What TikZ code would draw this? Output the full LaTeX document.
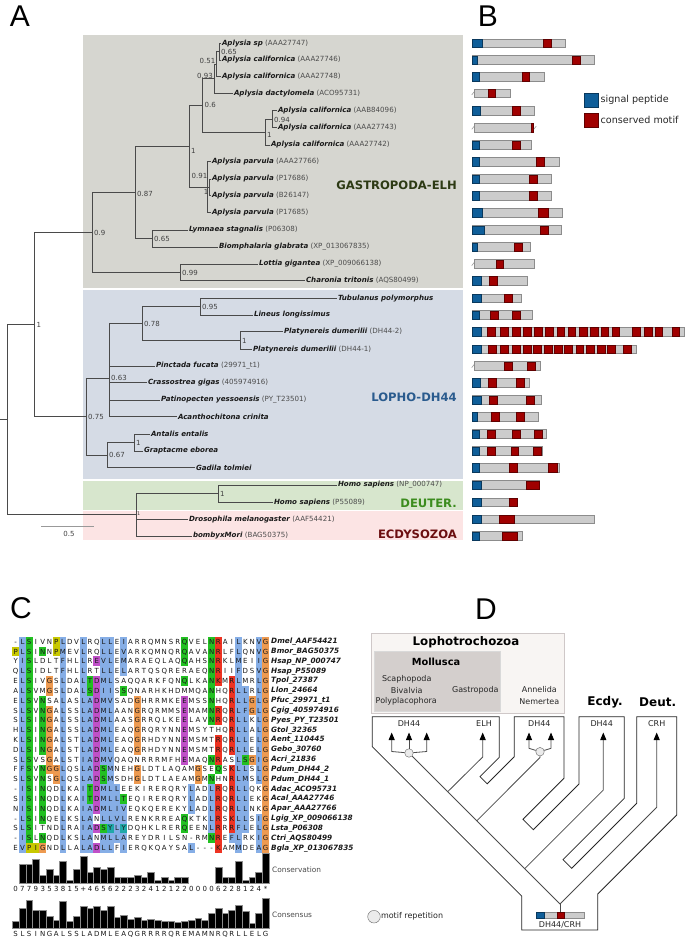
\documentclass[tikz,border=0pt]{standalone}
\usepackage{fontspec}
\setmainfont{DejaVu Sans}
\newfontfamily\panelfont{Liberation Sans}
\usetikzlibrary{arrows.meta}
\definecolor{treeg}{HTML}{4A4A4A}
\definecolor{gasbox}{HTML}{D6D6D0}
\definecolor{lopbox}{HTML}{D5DBE5}
\definecolor{deubox}{HTML}{D7E6CD}
\definecolor{ecdbox}{HTML}{FCE4E4}
\definecolor{gastc}{HTML}{2D3A14}
\definecolor{lopc}{HTML}{2A5B8E}
\definecolor{deuc}{HTML}{3C8C1E}
\definecolor{ecdc}{HTML}{6B0E10}
\definecolor{spblue}{HTML}{0F5E99}
\definecolor{cmred}{HTML}{A00000}
\definecolor{barg}{HTML}{CCCCCC}
\definecolor{barb}{HTML}{8C8C8C}
\definecolor{alb}{HTML}{86AEE6}
\definecolor{alg}{HTML}{22C022}
\definecolor{alo}{HTML}{EE9A50}
\definecolor{alm}{HTML}{C050C8}
\definecolor{alr}{HTML}{EE3322}
\definecolor{aly}{HTML}{C8C800}
\definecolor{alc}{HTML}{20A8A8}
\definecolor{lophf}{HTML}{F8F5F3}
\definecolor{lophd}{HTML}{CFC8C8}
\definecolor{mollf}{HTML}{D4CFCD}

\newcommand\spn[1]{\textbf{\textit{#1}}}
\newcommand\acc[1]{\textcolor{black!70}{(#1)}}

\newcommand\protbar[5]{%
  \draw[pbar] (#2,#1-4.3) rectangle (#3,#1+4.3);
  \ifdim #4pt>0pt \draw[pblue] (#2,#1-4.3) rectangle (#4,#1+4.3);\fi
  \foreach \ra/\rb in {#5} {\draw[pred] (\ra,#1-4.3) rectangle (\rb,#1+4.3);}
}
\newcommand\trunc[2]{\draw[barb, line width=0.5pt] (#1-1.3,#2+1.6) -- (#1+1.3,#2-1.6);}

\newcounter{alcol}
\newcounter{alrowc}
\newcommand\alrow[4]{%
  \stepcounter{alrowc}\setcounter{alcol}{0}%
  \def\aly{#1}%
  \alstep#2\relax#3\relax
  \node[alname] (nm\arabic{alrowc}) at (271,#1) {\spn{#4}};}
\def\alstep#1#2\relax#3#4\relax{%
  \stepcounter{alcol}%
  \alcell{#1}{#3}%
  \ifx\relax#2\relax\else\alstep#2\relax#4\relax\fi}
\newcommand\alcell[2]{%
  \pgfmathsetmacro\alxx{15.7+(\value{alcol}-1)*6.757}%
  \if#2.\else\fill[al#2] (\alxx-3.38,\aly-4.91) rectangle (\alxx+3.38,\aly+4.91);\fi
  \node[alchar] (c\arabic{alrowc}x\arabic{alcol}) at (\alxx,\aly) {#1};}

\begin{document}
\begin{tikzpicture}[x=1pt,y=-1pt,
  br/.style={draw=treeg, line width=0.75pt},
  leaf/.style={anchor=west, font=\fontsize{7.1}{8}\selectfont, inner sep=0.8pt, text=black!90},
  sup/.style={anchor=west, font=\fontsize{7}{8}\selectfont, inner sep=0.5pt, text=black!75},
  supl/.style={sup, anchor=east},
  grp/.style={anchor=east, font=\bfseries\fontsize{11.6}{13}\selectfont, inner sep=0pt},
  panel/.style={font=\panelfont\fontsize{30}{30}\selectfont, inner sep=0pt},
  pbar/.style={fill=barg, draw=barb, line width=0.7pt},
  pblue/.style={fill=spblue, draw=spblue!60!black, line width=0.4pt},
  pred/.style={fill=cmred, draw=cmred!60!black, line width=0.4pt},
  leg/.style={anchor=west, font=\fontsize{9.6}{11}\selectfont, inner sep=0pt, text=black!85},
  alchar/.style={font=\fontsize{7}{8}\selectfont, inner sep=0pt, text height=5.1pt, text depth=0pt, text=black!90},
  alname/.style={anchor=west, font=\fontsize{7.3}{8}\selectfont, inner sep=0pt, text=black!90},
  trk/.style={anchor=west, font=\fontsize{7.4}{8}\selectfont, inner sep=0pt, text=black!70},
  tube/.style={draw=black!85, line width=0.8pt, line join=miter},
  gl/.style={draw=black!70, line width=0.8pt},
  garr/.style={-{Triangle[length=7.5pt,width=6pt,color=black]}},
  mcirc/.style={circle, draw=black!60, fill=black!8, minimum size=8.5pt, inner sep=0pt},
  dtxt/.style={font=\fontsize{8}{9}\selectfont, inner sep=0pt, text=black!85},
  dbold/.style={font=\bfseries\fontsize{12}{13}\selectfont, inner sep=0pt}]
\useasboundingbox (0,0) rectangle (685,938);
\fill[white] (0,0) rectangle (685,938);

% ---------- panel letters
\node[panel] (pA) at (20,16.5) {A};
\node[panel] (pB) at (488,16.5) {B};
\node[panel] (pC) at (21,608.5) {C};
\node[panel] (pD) at (486,609) {D};

% ---------- panel A boxes
\fill[gasbox] (83,35) rectangle (463,288);
\fill[lopbox] (83,290) rectangle (463,479);
\fill[deubox] (83,480.5) rectangle (463,510);
\fill[ecdbox] (83,511) rectangle (463,540);

% leaves
\coordinate (L1) at (221,43.3);
\coordinate (L2) at (221,60);
\coordinate (L3) at (221,76.7);
\coordinate (L4) at (233,93.3);
\coordinate (L5) at (277,110.7);
\coordinate (L6) at (277,127.7);
\coordinate (L7) at (270,145);
\coordinate (L8) at (211,161.7);
\coordinate (L9) at (211,179);
\coordinate (L10) at (211,195.7);
\coordinate (L11) at (211,212.7);
\coordinate (L12) at (188,230);
\coordinate (L13) at (218,247);
\coordinate (L14) at (258,264);
\coordinate (L15) at (305,280.7);
\coordinate (M1) at (337,298.3);
\coordinate (M2) at (253,315);
\coordinate (M3) at (283,331.7);
\coordinate (M4) at (252,349.3);
\coordinate (M5) at (155,366);
\coordinate (M6) at (147,382.7);
\coordinate (M7) at (160,400);
\coordinate (M8) at (177,416.7);
\coordinate (M9) at (150,434);
\coordinate (M10) at (143,451);
\coordinate (M11) at (195,467.7);
\coordinate (D1) at (337,485);
\coordinate (D2) at (273,502.3);
\coordinate (E1) at (188,519.3);
\coordinate (E2) at (192,536);
% internal nodes
\coordinate (n065a) at (219,51.7);
\coordinate (n051) at (216.5,64.2);
\coordinate (n093) at (214,78.7);
\coordinate (n094) at (272,119.2);
\coordinate (n1a) at (265,132.1);
\coordinate (n06) at (202,105.4);
\coordinate (n1b) at (209,187.3);
\coordinate (n091) at (207,187.2);
\coordinate (n1c) at (189,146.3);
\coordinate (n065b) at (152,238.5);
\coordinate (n087) at (135,192.4);
\coordinate (n099) at (180,272.3);
\coordinate (n09) at (92,232.4);
\coordinate (m095) at (200,306.7);
\coordinate (m1p) at (240,340.5);
\coordinate (m078) at (142,323.6);
\coordinate (m063) at (109,378);
\coordinate (m1ag) at (134,442.5);
\coordinate (m067) at (107,455.1);
\coordinate (m075) at (86,416.5);
\coordinate (r1) at (34,324.5);
\coordinate (d1) at (218,493.7);
\coordinate (e1) at (136,514.8);
\coordinate (root) at (7,419.7);
\coordinate (rstub) at (0,419.7);

% branches
\foreach \p/\c in {n065a/L1,n065a/L2,n051/n065a,n051/L3,n093/n051,n093/L4,
  n094/L5,n094/L6,n1a/n094,n1a/L7,n06/n093,n06/n1a,n1b/L9,n1b/L10,
  n091/L8,n091/n1b,n091/L11,n1c/n06,n1c/n091,n065b/L12,n065b/L13,
  n087/n1c,n087/n065b,n099/L14,n099/L15,n09/n087,n09/n099,
  m095/M1,m095/M2,m1p/M3,m1p/M4,m078/m095,m078/m1p,
  m063/m078,m063/M5,m063/M6,m063/M7,m063/M8,
  m1ag/M9,m1ag/M10,m067/m1ag,m067/M11,m075/m063,m075/m067,
  r1/n09,r1/m075,d1/D1,d1/D2,e1/d1,e1/E1,e1/E2,root/r1,root/e1}
  {\draw[br] (\p) |- (\c);}
\draw[br] (root) -- (rstub);

% leaf labels
\node[leaf] (tL1) at (L1) {\spn{Aplysia sp} \acc{AAA27747}};
\node[leaf] (tL2) at (L2) {\spn{Aplysia californica} \acc{AAA27746}};
\node[leaf] (tL3) at (L3) {\spn{Aplysia californica} \acc{AAA27748}};
\node[leaf] (tL4) at (L4) {\spn{Aplysia dactylomela} \acc{ACO95731}};
\node[leaf] (tL5) at (L5) {\spn{Aplysia californica} \acc{AAB84096}};
\node[leaf] (tL6) at (L6) {\spn{Aplysia californica} \acc{AAA27743}};
\node[leaf] (tL7) at (L7) {\spn{Aplysia californica} \acc{AAA27742}};
\node[leaf] (tL8) at (L8) {\spn{Aplysia parvula} \acc{AAA27766}};
\node[leaf] (tL9) at (L9) {\spn{Aplysia parvula} \acc{P17686}};
\node[leaf] (tL10) at (L10) {\spn{Aplysia parvula} \acc{B26147}};
\node[leaf] (tL11) at (L11) {\spn{Aplysia parvula} \acc{P17685}};
\node[leaf] (tL12) at (L12) {\spn{Lymnaea stagnalis} \acc{P06308}};
\node[leaf] (tL13) at (L13) {\spn{Biomphalaria glabrata} \acc{XP\_013067835}};
\node[leaf] (tL14) at (L14) {\spn{Lottia gigantea} \acc{XP\_009066138}};
\node[leaf] (tL15) at (L15) {\spn{Charonia tritonis} \acc{AQS80499}};
\node[leaf] (tM1) at (M1) {\spn{Tubulanus polymorphus}};
\node[leaf] (tM2) at (M2) {\spn{Lineus longissimus}};
\node[leaf] (tM3) at (M3) {\spn{Platynereis dumerilii} \acc{DH44-2}};
\node[leaf] (tM4) at (M4) {\spn{Platynereis dumerilii} \acc{DH44-1}};
\node[leaf] (tM5) at (M5) {\spn{Pinctada fucata} \acc{29971\_t1}};
\node[leaf] (tM6) at (M6) {\spn{Crassostrea gigas} \acc{405974916}};
\node[leaf] (tM7) at (M7) {\spn{Patinopecten yessoensis} \acc{PY\_T23501}};
\node[leaf] (tM8) at (M8) {\spn{Acanthochitona crinita}};
\node[leaf] (tM9) at (M9) {\spn{Antalis entalis}};
\node[leaf] (tM10) at (M10) {\spn{Graptacme eborea}};
\node[leaf] (tM11) at (M11) {\spn{Gadila tolmiei}};
\node[leaf] (tD1) at (D1) {\spn{Homo sapiens} \acc{NP\_000747}};
\node[leaf] (tD2) at (D2) {\spn{Homo sapiens} \acc{P55089}};
\node[leaf] (tE1) at (E1) {\spn{Drosophila melanogaster} \acc{AAF54421}};
\node[leaf] (tE2) at (E2) {\spn{bombyxMori} \acc{BAG50375}};

% support values
\node[sup] (s1) at (220.5,51.5) {0.65};
\node[supl] (s2) at (216,61) {0.51};
\node[supl] (s3) at (213.5,75.5) {0.93};
\node[sup] (s4) at (204,105) {0.6};
\node[sup] (s5) at (273.5,120) {0.94};
\node[sup] (s6) at (266.5,135) {1};
\node[sup] (s7) at (190.5,150.5) {1};
\node[supl] (s8) at (208,176) {0.91};
\node[supl] (s9) at (209,192) {1};
\node[sup] (s10) at (136.5,194) {0.87};
\node[sup] (s11) at (153.5,239) {0.65};
\node[sup] (s12) at (93.5,233) {0.9};
\node[sup] (s13) at (181.5,272.5) {0.99};
\node[sup] (s14) at (36,325) {1};
\node[sup] (s15) at (201.5,306.5) {0.95};
\node[sup] (s16) at (143.5,323.5) {0.78};
\node[sup] (s17) at (241.5,341) {1};
\node[sup] (s18) at (110.5,378) {0.63};
\node[sup] (s19) at (87.5,416.5) {0.75};
\node[sup] (s20) at (135.5,443) {1};
\node[sup] (s21) at (108.5,455) {0.67};
\node[sup] (s22) at (219.5,493.5) {1};
\node[sup, font=\fontsize{5}{6}\selectfont] (s23) at (136.5,514) {1};

% scale bar
\coordinate (sb1) at (41,526.7);
\coordinate (sb2) at (94,526.7);
\draw[black!40, line width=1.2pt] (sb1) -- (sb2);
\node[sup, anchor=center] (sbl) at (69,533.5) {0.5};

% group labels
\node[grp, text=gastc] (gGas) at (457,185) {GASTROPODA-ELH};
\node[grp, text=lopc] (gLop) at (457,397) {LOPHO-DH44};
\node[grp, text=deuc] (gDeu) at (457,503) {DEUTER.};
\node[grp, text=ecdc] (gEcd) at (457,534) {ECDYSOZOA};

% ---------- panel B
\protbar{43.3}{472}{565.7}{482}{542.7/551}
\protbar{60}{472}{594}{477}{571.7/580.3}
\protbar{76.7}{472}{544}{479}{521.7/529.3}
\protbar{93.3}{474}{510.7}{0}{487.7/495}
\trunc{473}{93.3}
\protbar{110.7}{472}{534}{480}{512/520}
\protbar{127.7}{474}{533}{0}{530.7/533}
\trunc{473}{127.7}\trunc{535}{127.7}
\protbar{145}{472}{531.7}{479}{512/520}
\protbar{161.7}{472}{559}{479}{536/544}
\protbar{179}{472}{551.7}{479}{529/536.7}
\protbar{195.7}{472}{551.7}{479}{529/537}
\protbar{212.7}{472}{562.3}{482}{537.7/547.7}
\protbar{230}{472}{561.7}{483.7}{540/547.7}
\protbar{247}{472}{530}{477.3}{514.3/522.3}
\protbar{264}{474}{534.3}{0}{495.7/502.7}
\trunc{473}{264}
\protbar{280.7}{472}{527.7}{481}{489.3/497}
\protbar{298.3}{472}{521}{481}{504.3/512.3}
\protbar{315}{472}{532.7}{479.3}{490/497.7,512.3/520}
\protbar{331.7}{472}{684.3}{481}{487.3/495,500/508.3,511.7/520,522.7/530.7,534/541.7,545/552.7,556.7/564.3,567.7/575.3,579/586.7,590/597.7,601/608.3,611.7/619,632.3/640.3,644/651.7,655/662.3,671.7/679.3}
\protbar{349.3}{472}{636}{481}{487.7/495.7,500/508.3,512.3/520.3,522.7/530.7,533.3/541,544/551.7,554.3/562,564.3/572,575.7/583.3,586/593.7,597.3/605,607.3/615,623.3/631}
\protbar{366}{474}{540.7}{0}{504.3/512.3,526.7/535}
\trunc{473}{366}
\protbar{382.7}{472}{529.3}{480}{488.3/496,516/524}
\protbar{400}{472}{541.7}{481}{489/496.7,526/534}
\protbar{416.7}{472}{538.3}{477.3}{491/499,516/524}
\protbar{434}{472}{546.7}{479}{487.3/495,512/520,534/542}
\protbar{451}{472}{542.3}{479}{487.3/495,510.7/518.3,533.3/541}
\protbar{467.7}{472}{559.7}{479}{509.3/517.3,548.3/556.7}
\protbar{485}{472}{539.3}{481}{525.7/539}
\protbar{502.3}{472}{517.7}{481}{509.3/517.3}
\protbar{519.3}{472}{594.3}{481}{499.3/514}
\protbar{536}{472}{522.3}{479}{502.3/517.3}
% legend
\draw[pblue] (584.3,92.7) rectangle (597.7,106.7);
\node[leg] (legsp) at (600.5,99.7) {signal peptide};
\draw[pred] (584.3,113.3) rectangle (597.7,127);
\node[leg] (legcm) at (600.5,120.2) {conserved motif};

% ---------- panel C alignment
\alrow{641.7}{-LSIVNPLDVLRQLLEIARRQMNSRQVELNRAILKNVG}{.bg...yb.. b..bb.b... .....g...g r..b..bo}{Dmel\_AAF54421}
\alrow{651.5}{PLSINNPMEVLRQLLEVARKQMNQRQAVANRLFLQNVG}{ybg.g.yb.. b..bb.b... .....g...g r..b..bo}{Bmor\_BAG50375}
\alrow{661.3}{YISLDLTFHLLREVLEMARAEQLAQQAHSNRKLMEIIG}{.bg....b.. b.mbb.b... .....g...g r..b..bo}{Hsap\_NP\_000747}
\alrow{671.2}{QLSIDLTFHLLRTLLELARTQSQRERAEQNRIIFDSVG}{.bg....b.. b..bb.b... .........g r..b..bo}{Hsap\_P55089}
\alrow{681.0}{ELSIVGSLDALTDMLSAQQARKFQNQLKANKMRLMRLG}{.bg..o.b.. bgmbb..... .....g...g r.rb..bo}{Tpol\_27387}
\alrow{690.8}{ALSVMGSLDALSDIISSQNARHKHDMMQANHQRLLRLG}{.bg..o.b.. bgmbb.g... .........g ..rbb.bo}{Llon\_24664}
\alrow{700.6}{ELSVNSALASLADMVSADGHRRMKEEMSSNHQRLLGLG}{.bg.g..b.. bbmbb...o. .....m...g ..rbbobo}{Pfuc\_29971\_t1}
\alrow{710.5}{SLSVNGALSSLADMLAANGRQRMMSEMAMNRQRLFGLG}{.bg.go.b.. bbmbb...o. .....m...g r.rbbobo}{Cgig\_405974916}
\alrow{720.3}{SLSINGALSSLADMLAASGRRQLKEELAVNRQRLLKLG}{.bg.go.b.. bbmbb...o. .....m...g r.rbb.bo}{Pyes\_PY\_T23501}
\alrow{730.1}{HLSINGALSSLADMLEAQGRQRYNNEMSYTHQRLLALG}{.bg.go.b.. bbmbb...o. .....m.... ..rbb.bo}{Gtol\_32365}
\alrow{740.0}{KLSINGALSTLADMLEAQGRHDYNNEMSMTRQRLLELG}{.bg.go.b.. bbmbb...o. .....m.... r.rbb.bo}{Aent\_110445}
\alrow{749.8}{DLSINGALSTLADMLEAQGRHDYNNEMSMTRQRLLELG}{.bg.go.b.. bbmbb...o. .....m.... r.rbb.bo}{Gebo\_30760}
\alrow{759.6}{SLSVSGALSTIADMVQAQNRRRMFHEMAQNRASLSGIG}{.bg..o.b.. bbmbb..... .....m...g r..bgobo}{Acri\_21836}
\alrow{769.4}{FFSVNGGLQSLADSMNEHGLDTLAQAMGSEQSKLLSLG}{.bg.goob.. bbmgb...o. .......o.. g.rbb.bo}{Pdum\_DH44\_2}
\alrow{779.3}{SLSVNSGLQSLADSMSDHGLDTLAEAMGMNHNRLMSLG}{.bg.g.ob.. bbmgb...o. .......o.g ..rbb.bo}{Pdum\_DH44\_1}
\alrow{789.1}{-ISINQDLKAITDMLLEEKIRERQRYLADLRQRLLQKG}{.bg.g..b.. bgmbbb.... ......b..b r.rbb..o}{Adac\_ACO95731}
\alrow{798.9}{SISINQDLKAITDMLLTEQIRERQRYLADLRQRLLEKG}{.bg.g..b.. bgmbbbg... ......b..b r.rbb..o}{Acal\_AAA27746}
\alrow{808.8}{NISINQDLKAIADMLIVEQKQEREKYLADLRQRLLNKG}{.bg.g..b.. bbmbbbb... ......b..b r.rbb..o}{Apar\_AAA27766}
\alrow{818.6}{-LSINQELKSLANLLVLRENKRREAQKTKLRSKLLSIG}{.bg.g..b.. bb.bbbb... .....g...b r.rbb.bo}{Lgig\_XP\_009066138}
\alrow{828.4}{SLSITNDLRAIADSYLYDQHKLRERQEENLRRRFLELG}{.bg....b.. bbmgcbc... .....g...b r.rbb.bo}{Lsta\_P06308}
\alrow{838.2}{-ISLNQDLKSLANMLLAREYDRILSN-RMNREFLRKIG}{.bg.g..b.. bb.bbbb... .........g r.bb..bo}{Ctri\_AQS80499}
\alrow{848.1}{EVPIGNDLLALADLLFIERQKQAYSAL---KAMMDEAG}{.byyo..b.. bbmbb.b... ......b... r..b..bo}{Bgla\_XP\_013067835}

% conservation track
\foreach \v [count=\i] in {0,7,7,9,3,5,3,8,1,5,10,4,6,5,6,2,2,2,3,2,4,1,2,1,2,2,0,0,0,0,6,2,2,8,1,2,4,11}
  {\ifdim\v pt>0pt \fill[black, draw=black!45, line width=0.25pt] ({12.3+(\i-1)*6.757},882.7) rectangle ++(6.757,{-\v*29.4/11});\fi}
\foreach \c [count=\i] in {0,7,7,9,3,5,3,8,1,5,+,4,6,5,6,2,2,2,3,2,4,1,2,1,2,2,0,0,0,0,6,2,2,8,1,2,4,*}
  {\node[alchar] (cv\i) at ({15.7+(\i-1)*6.757},888.5) {\c};}
\node[trk] (conslab) at (272,869.5) {Conservation};
% consensus track
\foreach \v [count=\i] in {6.7,20,28.3,18.3,18.3,11.7,8.3,26.7,6.7,11.7,22.3,20,21.7,18.3,21.7,10.7,12.7,9.3,10.7,8.3,9.3,8.3,7.3,7.3,5.7,6.7,8.3,10,8.3,15,20,15,18.3,23.3,16.7,5,15,30}
  {\fill[black, draw=black!45, line width=0.25pt] ({12.3+(\i-1)*6.757},928.3) rectangle ++(6.757,{-\v});}
\foreach \c [count=\i] in {S,L,S,I,N,G,A,L,S,S,L,A,D,M,L,E,A,Q,G,R,R,R,R,Q,R,E,M,A,M,N,R,Q,R,L,L,E,L,G}
  {\node[alchar] (cs\i) at ({15.7+(\i-1)*6.757},933.5) {\c};}
\node[trk] (conslab2) at (272,914.3) {Consensus};

% ---------- panel D
\fill[lophf, draw=lophd, line width=0.8pt] (371.7,633.3) rectangle (564,713.5);
\fill[mollf, draw=white!85!black, line width=0.6pt] (374,651) rectangle (500.7,711.7);
\node[dbold, font=\bfseries\fontsize{11.8}{13}\selectfont] (tLoph) at (466,642) {Lophotrochozoa};
\node[dbold, font=\bfseries\fontsize{9.8}{11}\selectfont] (tMoll) at (436,662) {Mollusca};
\node[dtxt] (tScap) at (406.7,679.3) {Scaphopoda};
\node[dtxt] (tBiv) at (406.7,690.3) {Bivalvia};
\node[dtxt] (tPoly) at (406.3,701.7) {Polyplacophora};
\node[dtxt] (tGast) at (475.3,690.3) {Gastropoda};
\node[dtxt] (tAnn) at (539.3,689.3) {Annelida};
\node[dtxt] (tNem) at (539.3,701.7) {Nemertea};
\node[dbold] (tEcdy) at (605,702) {Ecdy.};
\node[dbold] (tDeut) at (657.7,702.5) {Deut.};

% species tree tubes
\draw[tube] (372.3,716.7) -- (499.3,716.7) -- (499.3,757.3) -- (480,776.6) -- (487.2,783.8)
  -- (514.3,756.7) -- (514.3,716.7) -- (564,716.7) -- (564,778.3) -- (523,819.3) -- (533.3,829.7)
  -- (579,784) -- (579,716.7) -- (624.3,716.7) -- (624.3,798.3) -- (563,859.6) -- (571.7,868.3)
  -- (636.7,803.3) -- (636.7,716.7) -- (676.7,716.7) -- (676.7,815) -- (597.7,894) -- (597.7,930)
  -- (521.7,930) -- (521.7,896.1) -- (372.3,746.7) -- cycle;

% gene labels
\node[dtxt] (gD1) at (409,723.5) {DH44};
\node[dtxt] (gELH) at (484,723.5) {ELH};
\node[dtxt] (gD2) at (539.3,723.5) {DH44};
\node[dtxt] (gD3) at (601.7,723.5) {DH44};
\node[dtxt] (gCRH) at (656.7,723.5) {CRH};

% gene tree
\node[mcirc] (C1) at (409,753) {};
\node[mcirc] (C2) at (540,751.7) {};
\coordinate (J0) at (560,904);
\coordinate (J1) at (447.7,791.7);
\coordinate (J2) at (476.8,820.8);
\coordinate (J3) at (524.7,868.7);
\coordinate (a1) at (391.7,732.5);
\coordinate (a2) at (409,732.5);
\coordinate (a3) at (426.7,732.5);
\coordinate (a4) at (482.7,732.5);
\coordinate (a5) at (529,732.5);
\coordinate (a6) at (551,732.5);
\coordinate (a7) at (603.3,732.5);
\coordinate (a8) at (656.7,732.5);
\draw[gl, garr] (C1) -- (391.7,751.5) -- (a1);
\draw[gl, garr] (C1) -- (a2);
\draw[gl, garr] (C1) -- (426.7,751.5) -- (a3);
\draw[gl] (C1) -- (J0);
\draw[gl, garr] (J1) -- (482.7,757) -- (a4);
\draw[gl, garr] (C2) -- (529,748.3) -- (a5);
\draw[gl, garr] (C2) -- (551,748.3) -- (a6);
\draw[gl] (C2) -- (540,757.5) -- (J2);
\draw[gl, garr] (J3) -- (603.3,790) -- (a7);
\draw[gl, garr] (J0) -- (656.7,807.3) -- (a8);
\coordinate (rb) at (560,912.3);
\draw[gl] (J0) -- (rb);
% root protein
\draw[pbar, line width=0.6pt] (536,912.3) rectangle (584,918.3);
\draw[pblue] (536,912.3) rectangle (544.3,918.3);
\draw[pred] (556.7,912.3) rectangle (564.3,918.3);
\node[dtxt] (tRoot) at (560,924.8) {DH44/CRH};
% legend
\node[mcirc, minimum size=12.6pt] (legc) at (374,916.7) {};
\node[dtxt, anchor=west] (legt) at (380.8,916.7) {motif repetition};
\end{tikzpicture}
\end{document}
